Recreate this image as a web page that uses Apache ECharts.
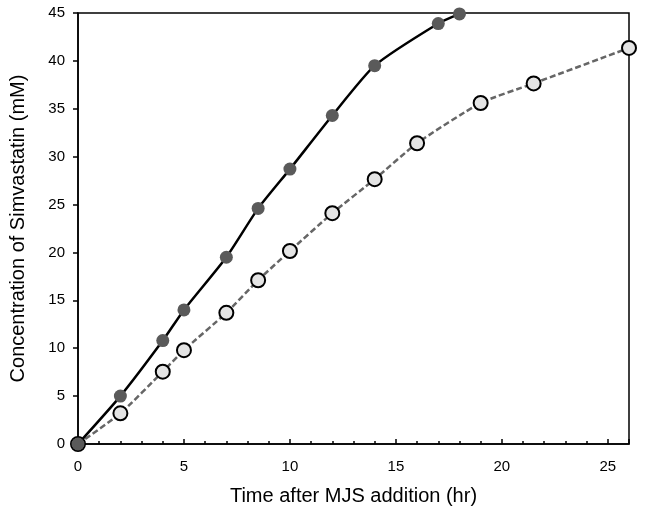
<!DOCTYPE html>
<html>
<head>
<meta charset="utf-8">
<script src="https://cdn.jsdelivr.net/npm/echarts@6/dist/echarts.min.js"></script>
<style>html,body{margin:0;padding:0;background:#fff;}#c{width:645px;height:516px;}</style>
</head>
<body>
<div id="c"></div>
<script>
// Series A: filled circles, solid line
const timeA = [0, 2, 4, 5, 7, 8.5, 10, 12, 14, 17, 18];
const concA = [0, 5.0, 10.8, 14.0, 19.5, 24.6, 28.7, 34.3, 39.5, 43.9, 44.9];
// Series B: open circles, dashed line
const timeB = [0, 2, 4, 5, 7, 8.5, 10, 12, 14, 16, 19, 21.5, 26];
const concB = [0, 3.2, 7.55, 9.8, 13.7, 17.1, 20.15, 24.1, 27.65, 31.4, 35.6, 37.65, 41.35];
const xTitle = 'Time after MJS addition (hr)';
const yTitle = 'Concentration of Simvastatin (mM)';

const pairs = (xs, ys) => xs.map((x, i) => [x, ys[i]]);
const font = 'Liberation Sans, Arial, sans-serif';

const chart = echarts.init(document.getElementById('c'), null, {renderer: 'canvas'});
chart.setOption({
  animation: false,
  backgroundColor: '#fff',
  grid: {left: 75, right: 16, top: 13, bottom: 72, show: true, borderColor: '#000', borderWidth: 1.5, containLabel: false},
  xAxis: {
    type: 'value', min: 0, max: 26, interval: 5,
    name: xTitle, nameLocation: 'middle', nameGap: 42,
    nameTextStyle: {fontFamily: font, fontSize: 20, color: '#000'},
    axisLine: {show: true, lineStyle: {color: '#000', width: 1.5}},
    axisTick: {show: true, inside: true, length: 5, lineStyle: {color: '#000', width: 1.5}},
    minorTick: {show: true, splitNumber: 5, length: 3, lineStyle: {color: '#000', width: 1.5}},
    axisLabel: {fontFamily: font, fontSize: 15, color: '#000', margin: 15, showMaxLabel: false},
    splitLine: {show: false}
  },
  yAxis: {
    type: 'value', min: 0, max: 45, interval: 5,
    name: yTitle, nameLocation: 'middle', nameGap: 50, nameRotate: 90,
    nameTextStyle: {fontFamily: font, fontSize: 20, color: '#000'},
    axisLine: {show: true, lineStyle: {color: '#000', width: 1.5}},
    axisTick: {show: true, inside: false, length: 5, lineStyle: {color: '#000', width: 1.5}},
    axisLabel: {fontFamily: font, fontSize: 15, color: '#000', margin: 13},
    splitLine: {show: false}
  },
  series: [
    {
      type: 'line', data: pairs(timeB, concB), smooth: 0.2, clip: false,
      symbol: 'circle', symbolSize: 14,
      lineStyle: {color: '#666', width: 2.5, type: [6, 3]},
      itemStyle: {color: '#e4e4e4', borderColor: '#000', borderWidth: 2},
      z: 2
    },
    {
      type: 'line', data: pairs(timeA, concA), smooth: 0.2, clip: false,
      symbol: 'circle', symbolSize: 13,
      lineStyle: {color: '#000', width: 2.5},
      itemStyle: {color: '#5a5a5a', borderWidth: 0},
      z: 3
    }
  ]
});
</script>
</body>
</html>
